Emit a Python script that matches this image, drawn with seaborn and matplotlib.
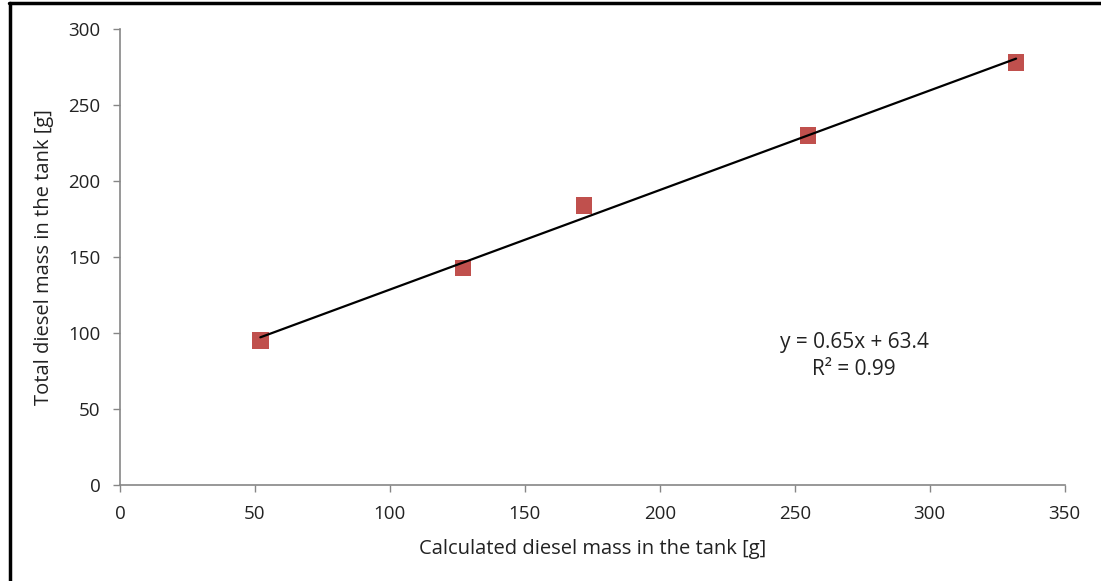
import matplotlib
matplotlib.use("Agg")
import matplotlib.pyplot as plt
import seaborn as sns
import numpy as np
import pandas as pd
from matplotlib.lines import Line2D

# Data
calc_mass = [52, 127, 172, 255, 332]
total_mass = [95, 143, 184, 230, 278]
x_ticks = [0, 50, 100, 150, 200, 250, 300, 350]
y_ticks = [0, 50, 100, 150, 200, 250, 300]

df = pd.DataFrame({'calc': calc_mass, 'total': total_mass})

sns.set_theme(style='white')
plt.rcParams['font.family'] = ['Open Sans', 'DejaVu Sans']

fig = plt.figure(figsize=(11.01, 5.81), dpi=100)
ax = fig.add_axes([0.109, 0.165, 0.858, 0.785])

# trend line
sns.regplot(x='calc', y='total', data=df, ci=None, truncate=True, ax=ax,
            scatter=False, line_kws={'color': 'black', 'lw': 1.6, 'zorder': 3})
# markers
sns.scatterplot(x='calc', y='total', data=df, ax=ax, marker='s', s=140,
                color='#C0504D', edgecolor='none', zorder=2)

ax.set_xlim(0, 350)
ax.set_ylim(0, 300)
ax.set_xticks(x_ticks)
ax.set_yticks(y_ticks)
ax.tick_params(axis='both', direction='out', length=5, width=1, color='#868686',
               labelsize=13.5, colors='#222222', left=True, bottom=True)
ax.tick_params(axis='x', pad=9)
ax.tick_params(axis='y', pad=9)
for side in ['top', 'right']:
    ax.spines[side].set_visible(False)
for side in ['left', 'bottom']:
    ax.spines[side].set_color('#868686')
    ax.spines[side].set_linewidth(1.2)

ax.set_xlabel('Calculated diesel mass in the tank [g]', fontsize=14.5, color='#222222', labelpad=12)
ax.set_ylabel('Total diesel mass in the tank [g]', fontsize=14.5, color='#222222', labelpad=10)

ax.text(272, 93.5, 'y = 0.65x + 63.4', ha='center', va='center', fontsize=15, color='#222222')
ax.text(272, 76, 'R² = 0.99', ha='center', va='center', fontsize=15, color='#222222')

# partial outer frame (left and top edges only)
fig.add_artist(Line2D([0.0095, 0.0095], [0.0, 0.994], transform=fig.transFigure,
                      color='black', lw=2.5))
fig.add_artist(Line2D([0.0085, 1.0], [0.994, 0.994], transform=fig.transFigure,
                      color='black', lw=2.5))

fig.savefig('out.png', dpi=100)
